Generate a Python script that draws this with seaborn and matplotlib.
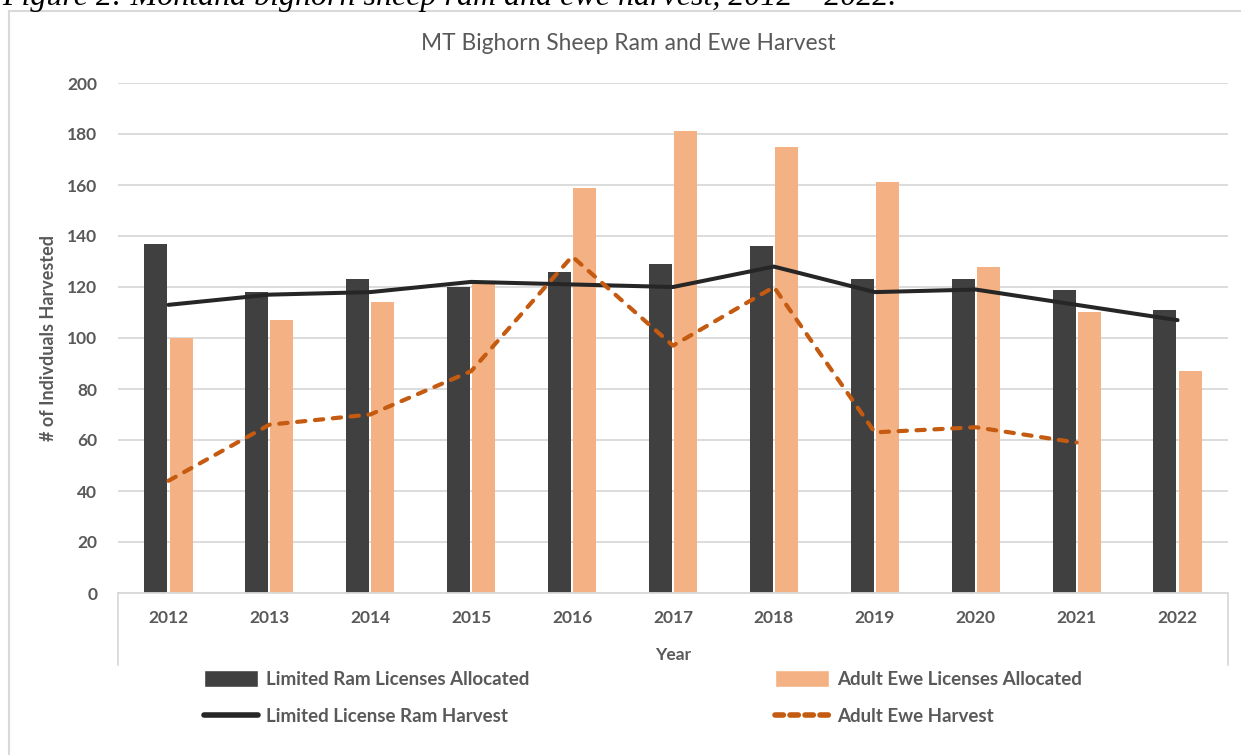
import numpy as np
import pandas as pd
import seaborn as sns
import matplotlib.pyplot as plt
from matplotlib.patches import Rectangle
from matplotlib.lines import Line2D

years = ['2012', '2013', '2014', '2015', '2016', '2017', '2018', '2019', '2020', '2021', '2022']
ram_licenses = [137, 118, 123, 120, 126, 129, 136, 123, 123, 119, 111]
ewe_licenses = [100, 107, 114, 122, 159, 181, 175, 161, 128, 110, 87]
ram_harvest = [113, 117, 118, 122, 121, 120, 128, 118, 119, 113, 107]
ewe_harvest = [44, 66, 70, 87, 132, 97, 120, 63, 65, 59, np.nan]

bar_labels = ['Limited Ram Licenses Allocated', 'Adult Ewe Licenses Allocated']
line_labels = ['Limited License Ram Harvest', 'Adult Ewe Harvest']

DARK = '#404040'
PEACH = '#F4B183'
RUST = '#C55A11'
LINE_DARK = '#262626'
GRID = '#D9D9D9'
TXT = '#595959'

sns.set_theme(style='white')
plt.rcParams['font.family'] = ['Lato', 'DejaVu Sans']

bars = pd.DataFrame({
    'Year': years * 2,
    'value': ram_licenses + ewe_licenses,
    'series': [bar_labels[0]] * len(years) + [bar_labels[1]] * len(years),
})

fig = plt.figure(figsize=(12.41, 7.55), dpi=100)
ax = fig.add_axes([118 / 1241, 162 / 755, 1110 / 1241, 510 / 755])

sns.barplot(data=bars, x='Year', y='value', hue='series', order=years,
            palette=[DARK, PEACH], saturation=1, width=0.5, gap=0.09,
            linewidth=0, legend=False, ax=ax)

idx = np.arange(len(years))
sns.lineplot(x=idx, y=ram_harvest, color=LINE_DARK, linewidth=2.9,
             solid_capstyle='round', ax=ax)
sns.lineplot(x=idx, y=ewe_harvest, color=RUST, linewidth=3.0,
             linestyle=(0, (2, 2.3)), dash_capstyle='round', ax=ax)

ax.set_xlim(-0.5, len(years) - 0.5)
ax.set_ylim(0, 200)
ax.set_yticks(range(0, 201, 20))
ax.yaxis.grid(True, color=GRID, linewidth=1.3)
ax.set_axisbelow(True)
for s in ['top', 'left', 'right']:
    ax.spines[s].set_visible(False)
ax.spines['bottom'].set_color(GRID)
ax.spines['bottom'].set_linewidth(1.3)
ax.tick_params(axis='both', length=0, labelsize=12.5, labelcolor=TXT)
ax.tick_params(axis='x', pad=12)
ax.tick_params(axis='y', pad=15)
for t in ax.get_xticklabels() + ax.get_yticklabels():
    t.set_fontweight('bold')

ax.set_xlabel('Year', fontsize=12.5, fontweight='bold', color=TXT, labelpad=15)
ax.set_ylabel('# of Indivduals Harvested', fontsize=13, fontweight='bold',
              color=TXT, labelpad=7)

# little vertical edges of the category axis area
for xa in (0, 1):
    ax.plot([xa, xa], [0, -72 / 510], transform=ax.transAxes, color=GRID,
            linewidth=1.3, clip_on=False)

fig.text(628 / 1241, 1 - 43 / 755, 'MT Bighorn Sheep Ram and Ewe Harvest',
         ha='center', va='center', fontsize=16.4, color=TXT)

# chart border
fig.add_artist(Rectangle((9 / 1241, -0.05), 1.1, 1.05 - 11.5 / 755,
                         transform=fig.transFigure, fill=False,
                         edgecolor=GRID, linewidth=1.5))

# figure caption, cropped at the top edge as in the source page
fig.text(2 / 1241, 1 - 5 / 755,
         'Figure 2: Montana bighorn sheep ram and ewe harvest, 2012 \u2013 2022.',
         ha='left', va='baseline', fontsize=23, style='italic',
         family=['Liberation Serif', 'DejaVu Serif'], color='black')

# legend
h_ram_bar = Rectangle((0, 0), 1, 1, facecolor=DARK)
h_ewe_bar = Rectangle((0, 0), 1, 1, facecolor=PEACH)
h_ram_line = Line2D([], [], color=LINE_DARK, linewidth=4, solid_capstyle='round')
h_ewe_line = Line2D([], [], color=RUST, linewidth=4, linestyle=(0, (1.5, 1.2)),
                    dash_capstyle='round')

leg_kw = dict(frameon=False, handlelength=2.9, handleheight=1.0,
              handletextpad=0.4, labelspacing=1.05, borderaxespad=0,
              borderpad=0, prop={'size': 13.5, 'weight': 'bold'},
              labelcolor=TXT)
fig.legend([h_ram_bar, h_ram_line], [bar_labels[0], line_labels[0]],
           loc='upper left', bbox_to_anchor=(204 / 1241, 1 - 670 / 755), **leg_kw)
fig.legend([h_ewe_bar, h_ewe_line], [bar_labels[1], line_labels[1]],
           loc='upper left', bbox_to_anchor=(775 / 1241, 1 - 670 / 755), **leg_kw)

fig.savefig('out.png', dpi=100)
